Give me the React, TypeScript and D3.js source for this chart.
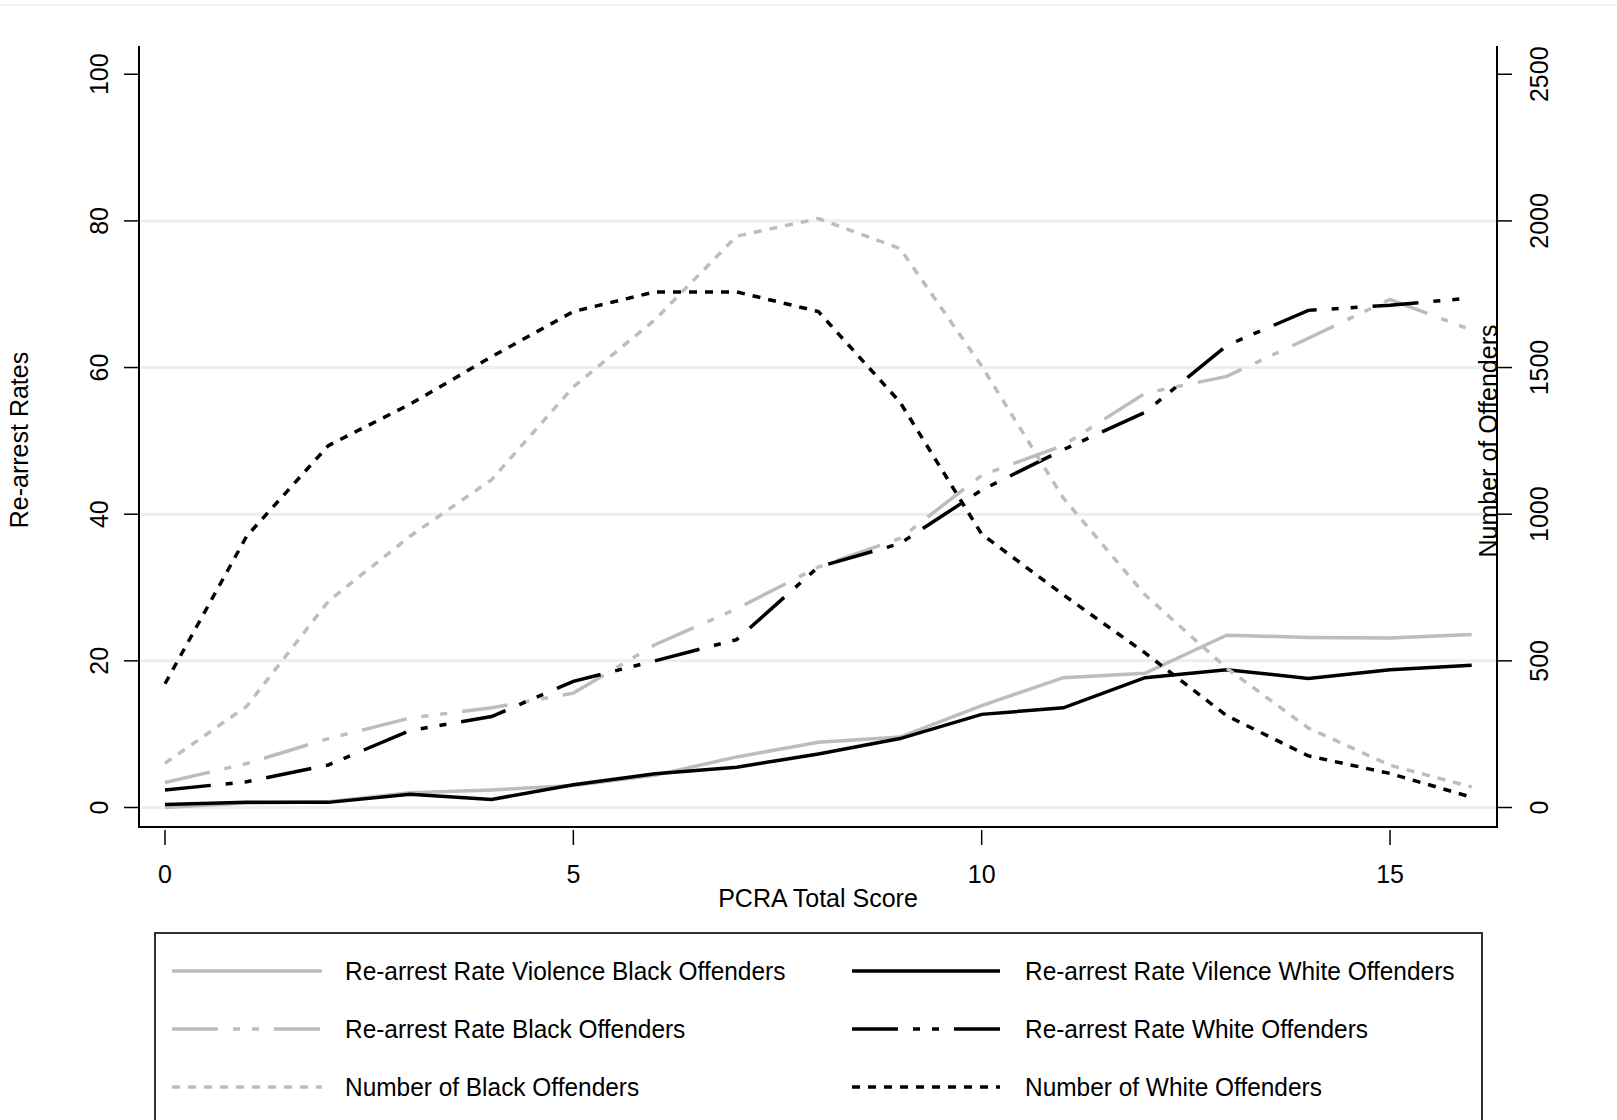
import React from 'react';
import * as d3 from 'd3';

const scores = d3.range(0, 17);

const violenceBlack = [0, 0.6, 0.8, 2.0, 2.4, 3.0, 4.4, 6.9, 8.9, 9.6, 13.9, 17.7, 18.3, 23.5, 23.2, 23.1, 23.6];
const violenceWhite = [0.4, 0.7, 0.7, 1.8, 1.1, 3.1, 4.6, 5.5, 7.3, 9.4, 12.7, 13.6, 17.7, 18.8, 17.6, 18.8, 19.4];
const rateBlack = [3.4, 6.0, 9.4, 12.2, 13.6, 15.6, 22.2, 27.1, 32.8, 36.7, 45.3, 49.4, 56.5, 58.8, 64.0, 69.3, 65.1];
const rateWhite = [2.4, 3.5, 5.8, 10.5, 12.4, 17.2, 20.0, 22.9, 32.8, 36.0, 43.3, 48.8, 53.9, 63.0, 67.8, 68.5, 69.5];
const numberBlack = [151, 345, 703, 925, 1118, 1434, 1663, 1948, 2008, 1906, 1505, 1055, 725, 475, 271, 144, 70];
const numberWhite = [422, 925, 1234, 1375, 1537, 1691, 1758, 1758, 1691, 1382, 932, 725, 527, 313, 176, 116, 35];

const leftTicks = [0, 20, 40, 60, 80, 100];
const rightTicks = [0, 500, 1000, 1500, 2000, 2500];
const xTicks = [0, 5, 10, 15];

const GRAY = '#bdbdbd';
const BLACK = '#000';
const SHORT = '8 8';
const DASHDOT = '46 15 7 12 7 15';
const FONT = '"Liberation Sans Narrow", "Arial Narrow", "Liberation Sans", Arial, sans-serif';

const series = [
  { label: 'Re-arrest Rate Violence Black Offenders', values: violenceBlack, axis: 'left', color: GRAY, dash: 'none' },
  { label: 'Re-arrest Rate Vilence White Offenders', values: violenceWhite, axis: 'left', color: BLACK, dash: 'none' },
  { label: 'Re-arrest Rate Black Offenders', values: rateBlack, axis: 'left', color: GRAY, dash: DASHDOT },
  { label: 'Re-arrest Rate White Offenders', values: rateWhite, axis: 'left', color: BLACK, dash: DASHDOT },
  { label: 'Number of Black Offenders', values: numberBlack, axis: 'right', color: GRAY, dash: SHORT },
  { label: 'Number of White Offenders', values: numberWhite, axis: 'right', color: BLACK, dash: SHORT },
];

const App = () => {
  const W = 1617, H = 1120;
  const left = 139, right = 1497, top = 46, bottom = 827;

  const x = d3.scaleLinear().domain([0, 16]).range([165, 1471.7]);
  const y = d3.scaleLinear().domain([0, 100]).range([807.5, 74.25]);
  const yR = d3.scaleLinear().domain([0, 2500]).range([807.5, 74.25]);

  const lineL = d3.line<number>().x((d, i) => x(scores[i])).y(d => y(d));
  const lineR = d3.line<number>().x((d, i) => x(scores[i])).y(d => yR(d));

  const legendRows = [971, 1029, 1087];
  const legendCols = [{ l0: 172, l1: 322, t: 345 }, { l0: 852, l1: 1000, t: 1025 }];

  return (
    <svg width={W} height={H} style={{ position: 'absolute', left: 0, top: 0, background: '#fff' }} fontFamily={FONT}>
      <rect x={0} y={0} width={W} height={H} fill="#fff" />
      <line x1={0} x2={W} y1={5} y2={5} stroke="#eeeeee" strokeWidth={1.5} />

      {/* gridlines */}
      {leftTicks.filter(t => t < 100).map(t => (
        <line key={t} x1={left + 2} x2={right - 1} y1={y(t)} y2={y(t)} stroke="#e9f0f2" strokeWidth={3} />
      ))}

      {/* series */}
      {series.map(s => (
        <path key={s.label}
          d={(s.axis === 'left' ? lineL : lineR)(s.values) || ''}
          fill="none" stroke={s.color} strokeWidth={3.5}
          strokeDasharray={s.dash} strokeLinejoin="miter" />
      ))}

      {/* axes */}
      <line x1={left} x2={left} y1={top} y2={bottom} stroke="#000" strokeWidth={2} />
      <line x1={right} x2={right} y1={top} y2={bottom} stroke="#000" strokeWidth={2} />
      <line x1={left - 1} x2={right + 1} y1={bottom} y2={bottom} stroke="#000" strokeWidth={2} />

      {leftTicks.map(t => (
        <g key={'l' + t}>
          <line x1={left - 15} x2={left} y1={y(t)} y2={y(t)} stroke="#000" strokeWidth={1.5} />
          <text transform={`translate(${108},${y(t)}) rotate(-90)`} textAnchor="middle" fontSize={25} fill="#000">{t}</text>
        </g>
      ))}
      {rightTicks.map(t => (
        <g key={'r' + t}>
          <line x1={right} x2={right + 15} y1={yR(t)} y2={yR(t)} stroke="#000" strokeWidth={1.5} />
          <text transform={`translate(${1548},${yR(t)}) rotate(-90)`} textAnchor="middle" fontSize={25} fill="#000">{t}</text>
        </g>
      ))}
      {xTicks.map(t => (
        <g key={'x' + t}>
          <line x1={x(t)} x2={x(t)} y1={bottom + 3} y2={bottom + 18} stroke="#000" strokeWidth={1.5} />
          <text x={x(t)} y={883} textAnchor="middle" fontSize={25} fill="#000">{t}</text>
        </g>
      ))}

      <text x={818} y={907} textAnchor="middle" fontSize={25} fill="#000">PCRA Total Score</text>
      <text transform={`translate(${28},${440}) rotate(-90)`} textAnchor="middle" fontSize={25} fill="#000">Re-arrest Rates</text>
      <text transform={`translate(${1497},${441}) rotate(-90)`} textAnchor="middle" fontSize={25} fill="#000">Number of Offenders</text>

      {/* legend */}
      <rect x={155} y={933} width={1327} height={240} fill="#fff" stroke="#333" strokeWidth={2} />
      {series.map((s, i) => {
        const col = legendCols[i % 2];
        const ry = legendRows[Math.floor(i / 2)];
        return (
          <g key={'lg' + i}>
            <line x1={col.l0} x2={col.l1} y1={ry} y2={ry} stroke={s.color} strokeWidth={3.5} strokeDasharray={s.dash} />
            <text transform={`translate(${col.t},${ry + 9}) scale(0.94,1)`} fontSize={26} fill="#000">{s.label}</text>
          </g>
        );
      })}
    </svg>
  );
};

export default App;
